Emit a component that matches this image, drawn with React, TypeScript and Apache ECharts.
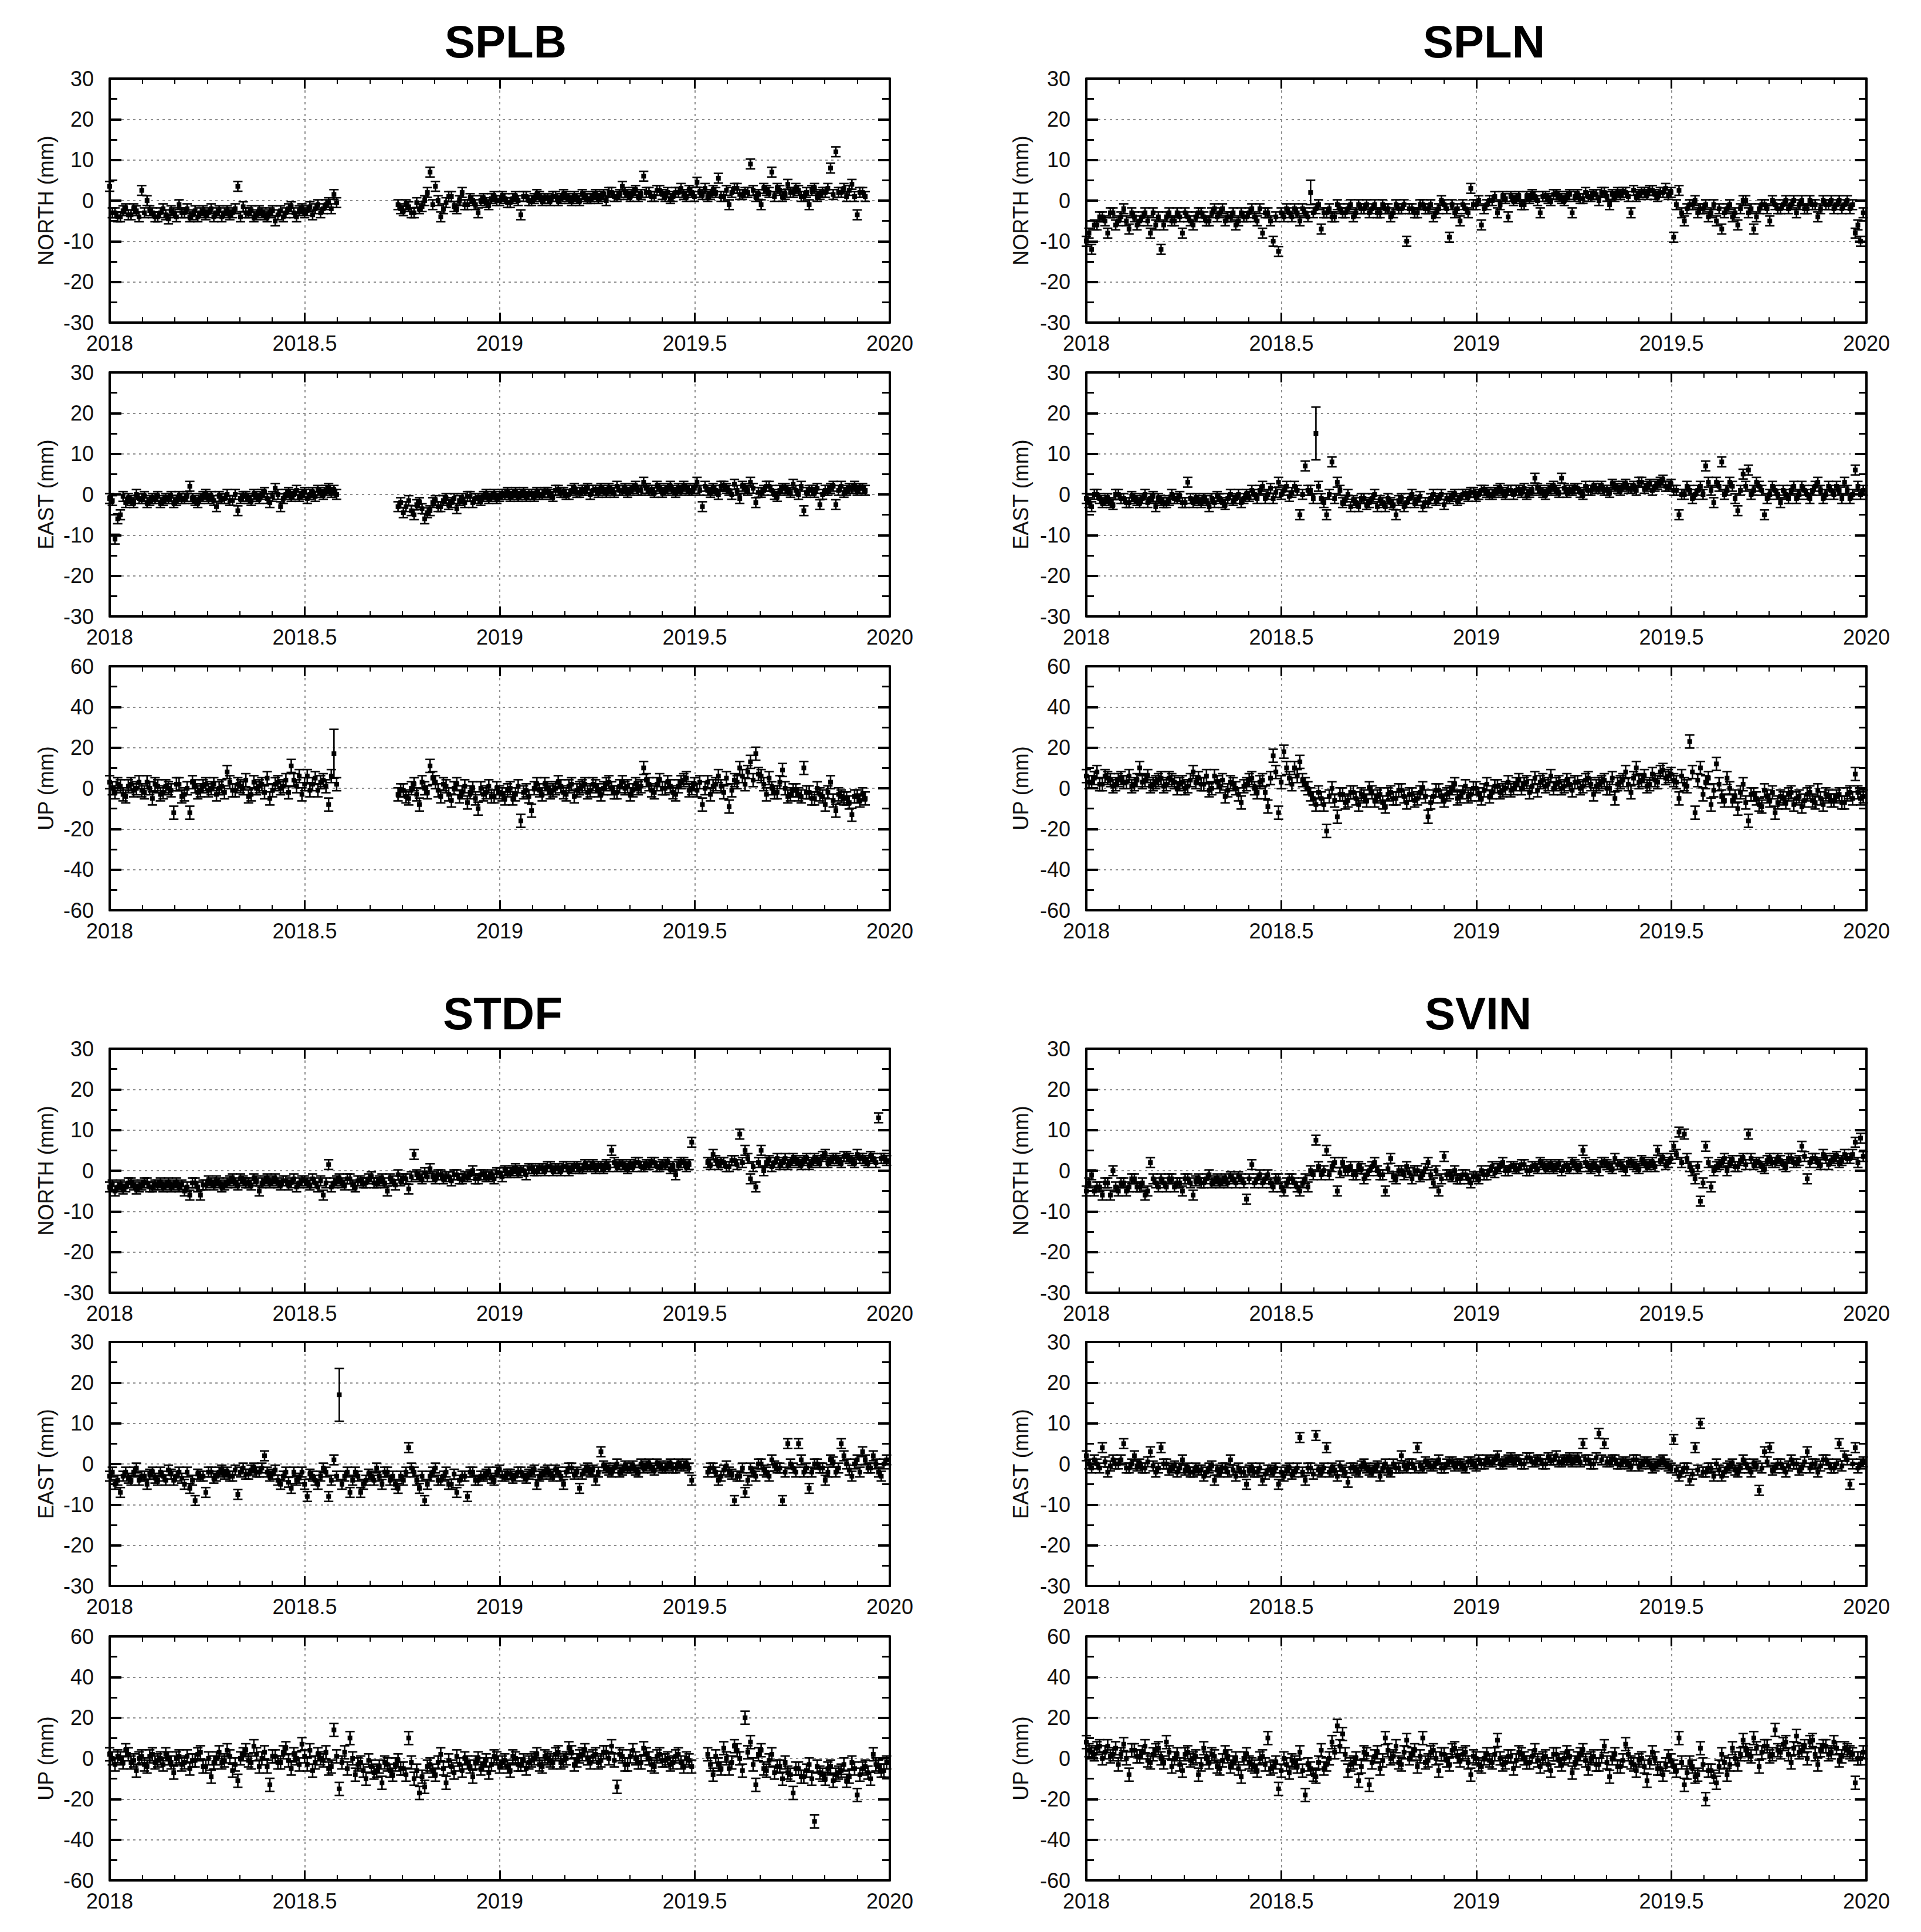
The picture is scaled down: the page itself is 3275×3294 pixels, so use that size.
import React, { useEffect, useRef } from "react";
import * as echarts from "echarts";

// ---- sampling: set A every 5 days from 2018.0, set B offset by 2.5 days ----
const START_YEAR = 2018;
const STEP_YEARS = 5 / 365.25;
const X_MIN = 2018;
const X_MAX = 2020;
const X_INTERVAL = 0.5;

const STATIONS = ["SPLB", "SPLN", "STDF", "SVIN"];
const COMPONENTS = ["NORTH (mm)", "EAST (mm)", "UP (mm)"];
const Y_RANGE_NE = [-30, 30];
const Y_RANGE_U = [-60, 60];
const DEFAULT_SIGMA = [1.2, 1.2, 3.2];

// ---- values (mm) ----
const SPLB_NORTH = [
  3.5, -3, -4, -2, -3.5, -2.5, 2.5, 0, -3, -4,
  -2, -4.5, -3, -1, -3, -4, -2.5, -3, -3.5, -2,
  -3, -4, -2.5, -3, 3.5, -1.5, -3, -4, -2.5, -3.5,
  -3, -5, -2.5, -3, -1.5, -4, -2, -2.5, -3.5, -1,
  -2, -0.5, 1.5, null, null, null, null, null, null, null,
  null, null, null, null, -1, -2.5, -1.5, -3, -2, 0,
  7, 3.5, -4, -0.5, 1, -2, 2, -1, 0, -3,
  0.5, -1, 1, 0, 0.5, -0.5, 1, -3.5, 1, 0,
  1.5, 0, 0.5, 1, 0, 1.5, 0.5, 1, 0, 1,
  0.5, 1.5, 1, 0, 2, 1, 3.5, 1.5, 2, 1,
  6, 2, 1, 2.5, 1, 0.5, 2, 3, 1, 2,
  4.5, 1.5, 1, 2.5, 5.5, 1, -1, 3, 1.5, 2,
  9, 1, -1, 2.5, 7, 3, 1, 4, 2, 2.5,
  1, -1, 3, 1.5, 2, 8, 12, 2, 1, 4,
  -3.5, 2, null, null, null, null,
];
const SPLB_NORTH_B = [
  -3, -4, -2.5, -3.5, -2, -4, -3, -2.5, -4, -3,
  -3.5, -2.5, -4, -3, -2, -3.5, -4, -2.5, -3, -4,
  -2.5, -3, -3.5, -2, -4, -3, -2.5, -3.5, -3, -4,
  -2.5, -3.5, -4, -2, -3, -2.5, -3, -1.5, -2, -3,
  -1, -2, -0.5, null, null, null, null, null, null, null,
  null, null, null, null, -2, -1, -3, -0.5, -1.5, 2,
  -1, 0, -2, 1, -1.5, 0, -1, 0.5, -1, 0,
  -0.5, 0.5, 0, 1, -0.5, 0.5, 0, 1, 0, 0.5,
  1, 0.5, 0, 1, 0.5, 1, 0, 0.5, 1.5, 0.5,
  1, 0.5, 1.5, 2, 1, 1.5, 2, 1, 2.5, 1.5,
  2, 1, 2.5, 1.5, 2, 1, 2, 1.5, 2.5, 1,
  2, 3, 1.5, 2, 1, 2.5, 2, 3, 1.5, 2,
  2.5, 1.5, 3, 2, 1, 2.5, 1.5, 2, 3, 1,
  2, 2.5, 1, 2, 3, 1.5, 2, 3, 2.5, 1,
  2, 1, null, null, null, null,
];
const SPLB_EAST = [
  -1, -11, -5, -2, -1.5, 0, -1, -2, -1, -0.5,
  -1.5, -1, -2, -0.5, -1, 2, -1.5, -1, 0, -0.5,
  -3, -1, 0, -1.5, -4, -0.5, -1, 0, -1, 0.5,
  -2, 1.5, -3, 0, -0.5, 1, 0, -1, 0.5, 1,
  0, 1.5, 1, null, null, null, null, null, null, null,
  null, null, null, null, -3, -4.5, -1.5, -5, -2, -6,
  -4, -1.5, -3, -1, -2, -3.5, -1, -0.5, -2, -1,
  -0.5, -1, 0, -0.5, 0, -0.5, 0.5, 0, -0.5, 0,
  0.5, 0, 0.5, -0.5, 1, 0.5, 0, 1.5, 0.5, 1,
  0, 1, 1.5, 0.5, 1, 2, 1, 0.5, 1.5, 1,
  3, 1, 0.5, 1.5, 1, 2, 0.5, 1, 1.5, 1,
  3, -3, 1, 1.5, 0, 2, 1, 2.5, -1, 1.5,
  3, -2, 0.5, 2, 1, -0.5, 1.5, 1, 2.5, 0,
  -4, 1, 0.5, -2.5, 1, 1.5, -2.5, 2, 1, 1.5,
  1, 1.5, null, null, null, null,
];
const SPLB_EAST_B = [
  -1.5, -6, -0.5, -1, -2, -1, -0.5, -1.5, -1, -2,
  -1, -0.5, -1.5, -1, -0.5, -1, -2, -0.5, -1, -1.5,
  -0.5, -1, -1.5, 0, -1, -0.5, -1.5, -0.5, 0, -1,
  -0.5, 0, -1, 0.5, 0, -0.5, 0.5, 0, -0.5, 0.5,
  1, 0.5, 0, null, null, null, null, null, null, null,
  null, null, null, null, -2, -3, -4, -2.5, -3.5, -4.5,
  -2, -3, -1.5, -2.5, -1, -1.5, -2, -0.5, -1, -1.5,
  0, -0.5, -1, 0, 0.5, 0, -0.5, 0.5, 0, -0.5,
  0, 0.5, 0, 1, 0.5, 0, 1, 0.5, 1, 1.5,
  1, 0.5, 1, 1.5, 0.5, 1, 1.5, 1, 2, 1,
  1.5, 1, 2, 0.5, 1.5, 1, 1.5, 2, 1, 1.5,
  1, 2, 0.5, 1, 2, 1.5, 0, 1, 2, 1,
  1.5, 0.5, 1, 2, 0, 1, 1.5, 0.5, 1, 2,
  0.5, 1, 1.5, 0, 1, 2, 1, 0.5, 1.5, 2,
  1.5, 1, null, null, null, null,
];
const SPLB_UP = [
  3, -2, 1, -4, 2, 0, -1, 3, -5, 1,
  -2, 0, -12, 2, -3, -12, 1, -1, 2, 0,
  -3, 1, 8, -1, 2, 0, -4, 3, 1, -2,
  -5, 2, 0, 4, 11, 1, -3, 6, 2, -1,
  4, -8, 17, null, null, null, null, null, null, null,
  null, null, null, null, -3, -1, -5, 2, -8, 0,
  11, 3, -4, 1, -6, 2, -2, -7, 0, -10,
  -3, 1, -4, -2, -5, 0, -3, -16, -1, -11,
  2, -3, 0, -1, 3, -2, 1, -4, 0, 2,
  -1, 1, -3, 2, 0, -2, 3, 1, -1, 0,
  10, 2, -2, 4, 0, 1, -3, 3, 5, 0,
  -1, -8, 3, 1, 6, -2, -9, 4, 10, 2,
  13, 17, 6, -3, 0, -2, 9, -4, -1, -3,
  10, -2, -5, -3, -8, 3, -11, -4, -5, -13,
  -4, -3, null, null, null, null,
];
const SPLB_UP_B = [
  0, 2, -3, 1, -1, 3, -2, 0, 2, -3,
  1, -1, 2, -4, 0, 3, -2, 1, -1, 2,
  0, -2, 3, -1, 1, 4, -3, 0, 2, 5,
  -1, 3, 1, -2, 4, 6, 2, -1, 5, 3,
  1, 6, 2, null, null, null, null, null, null, null,
  null, null, null, null, -1, -4, 0, -3, 3, -2,
  5, -1, 2, -3, 0, -4, 1, -2, -5, 0,
  -2, -4, 0, -3, -1, -5, 1, -2, -4, 0,
  -1, 2, -2, 0, 1, -3, 2, -1, 1, -2,
  2, -1, 0, 3, -2, 1, 0, -3, 2, 1,
  4, -1, 2, 0, 3, -2, 1, 4, -1, 2,
  3, 0, -3, 2, 1, 5, -1, 3, 6, 8,
  4, 7, 2, 5, -2, 3, 0, -3, -1, -4,
  -2, -5, 0, -4, -2, -6, -3, -5, -7, -4,
  -6, -5, null, null, null, null,
];

const SPLN_NORTH = [
  -10, -12, -6, -4, -8, -3, -5, -2, -7, -4,
  -5, -3, -8, -6, -12, -4, -5, -3, -8, -4,
  -6, -3, -4, -5, -2, -3, -5, -4, -6, -3,
  -4, -2, -5, -8, -3, -10, -12.5, -4, -3, -2,
  -5, -3, 2, -2, -7, -3, -4, -1, -3, -2,
  -4, -1, -2, -3, -1, -3, -2, -4, -1, -2,
  -10, -2, -3, -1, -2, -4, -2, -1, -9, -3,
  -5, -2, 3, -1, -6, -1, 0, -3, 1, -4,
  0, 1, -1, 0.5, 1, -3, 1, 0, 1.5, 0.5,
  1, -3, 1.5, 0.5, 1, 1.5, 0, 2, -1, 1,
  1.5, 2, -3, 1, 2, 1.5, 2.5, 1, 2, 1.5,
  -9, 2.5, -5, -1, 0, -2, -1, -3, -5, -7,
  -2, -4, -6, 0, -3, -7, -2, -1, -5, -1,
  -2, 0, -1, -3, 0, -2, -1, -4, 0, -1,
  -2, 0, -1, -2, -8, -10,
];
const SPLN_NORTH_B = [
  -8, -6, -4, -5, -3, -6, -4, -5, -3, -6,
  -4, -5, -3, -4, -6, -3, -5, -4, -3, -5,
  -4, -3, -5, -3, -4, -2, -4, -3, -5, -4,
  -3, -4, -2, -3, -5, -4, -3, -2, -4, -3,
  -2, -4, -3, -1, -3, -2, -4, -2, -3, -1,
  -3, -2, -1, -2, -3, -1, -2, -3, -2, -1,
  -2, -3, -1, -2, -1, -3, 0, -2, -1, -2,
  -1, -3, -1, 0, -2, 0, 1, -1, 0.5, 1,
  0.5, -1, 1, 1.5, 0, 1, 0.5, 1.5, 1, 0,
  1.5, 1, 0.5, 2, 1, 1.5, 2, 1, 1.5, 2,
  2, 1, 2.5, 1.5, 2, 2.5, 1.5, 2, 3, 2,
  -1, -3, -2, -1, -3, -2, -4, -1, -2, -3,
  -1, -3, -2, 0, -2, -4, -1, -2, 0, -2,
  -1, -2, 0, -1, -2, 0, -1, -2, -1, 0,
  -1, -2, 0, -1, -6, -3,
];
const SPLN_EAST = [
  -1, -3, 0, -2, -1, -2.5, 0, -1, -2, -1,
  -2, 0, -1, -3, -1.5, -2, 0, -1, -2, 3,
  -2, -1.5, -1, -3, -2, -1, -2.5, 0, -1, -2,
  0, 1, -1, 2, 0, -1, 3, 1, -0.5, 2,
  -5, 7, 1, 15, -1, -5, 8, 3, -2, 0,
  -1.5, -3, -1, -2, 0, -1.5, -3, -2, -5, -1,
  -2, 0, -1.5, -3, -2, 0, -1, -2.5, -1, 0,
  -1, 0, 0.5, -0.5, 1, 0.5, 0, 1, 0.5, 1,
  0, 1, 1.5, 0.5, 4, 1, 0, 1.5, 1, 4,
  0.5, 1, 1.5, 0, 1, 2, 1.5, 1, 0.5, 2,
  1, 2.5, 1.5, 1, 3, 2, 1, 2.5, 3.5, 2,
  1, -5, 0, 1, 0, 2, 7, 1, 3, 8,
  1, 2, -4, 5, 6, 1, 2, -5, 0, 1,
  -2, 0, 1, -1, 2, 0, 1, 3, -1, 2,
  0, 1, 3, -1, 6, 0,
];
const SPLN_EAST_B = [
  -2, 0, -1, -1.5, -2, 0, -1, -2, -0.5, -1.5,
  -1, -2, -0.5, -1, -2, -1.5, -1, -0.5, -2, -1,
  -1, -2, -1.5, -1, -0.5, -2, -1, -1.5, 0, -1,
  -0.5, 0, 1, -1, 1.5, 0.5, 0, 2, 0.5, 1,
  0, 1, -1, 2, -2, 0, -1, 1, -1.5, -3,
  -2, -1, -2.5, -1, -3, -2, -1, -2.5, -1.5, -3,
  -1, -2, -0.5, -2, -1, -1.5, 0, -1, -0.5, -1.5,
  0, -0.5, 0.5, 0, 1, 0, 0.5, 1.5, 0, 1,
  1, 0.5, 0, 1, 1.5, 0.5, 1, 2, 0.5, 1.5,
  1, 1.5, 0.5, 2, 1, 1.5, 2, 1, 2.5, 1.5,
  2, 1.5, 2, 3, 1.5, 2.5, 2, 3, 2, 2.5,
  1, 0, 2, -1, 1, 0, 3, -2, 2, 0,
  3, -1, 1, 2, 0, 3, 1, -1, 2, 0,
  1, -1, 2, 0, 1, -1, 2, 1, 0, 1,
  2, -1, 1, 0, 2, 1,
];
const SPLN_UP = [
  6, 3, 8, 2, 5, 1, 4, 3, 6, 2,
  10, 4, 1, 3, 5, 2, 4, 0, 3, 1,
  8, 5, 2, -1, 6, 1, -4, 3, 0, -7,
  2, 5, -2, 4, -9, 16, -12, 18, 5, 10,
  13, 2, -3, -8, -5, -21, 0, -14, -3, -6,
  -2, -8, -4, 0, -6, -3, -9, -2, -5, -1,
  -7, -3, -5, 0, -14, -4, -1, -6, -2, 2,
  -4, 1, -3, 0, -5, 2, -2, 1, -1, 3,
  0, 4, 2, -2, 5, 3, 1, 6, 2, 0,
  4, -1, 3, 1, 5, -3, 2, 4, 0, -5,
  3, 8, -2, 10, 4, 1, 7, 3, 9, 6,
  4, -5, 2, 23, -12, 10, 3, -8, 12, -4,
  5, -6, -10, 2, -16, -3, -8, -1, -6, -12,
  -4, -7, -2, -5, -9, -3, -6, -1, -8, -4,
  -6, -3, -7, -2, 7, -5,
];
const SPLN_UP_B = [
  3, 5, 2, 6, 4, 2, 5, 3, 1, 4,
  3, 6, 2, 4, 1, 5, 3, 2, 0, 4,
  3, 2, 6, 0, 3, 4, -1, 2, -3, 1,
  4, 0, 3, -2, 5, 8, 3, 10, 2, 6,
  4, 0, -5, -2, -8, -4, -6, -3, -7, -2,
  -5, -3, -6, -2, -4, -7, -3, -5, -1, -4,
  -3, -6, -2, -4, -7, -1, -4, -3, 0, -5,
  -2, -4, 0, -3, -1, -4, 1, -2, 0, -1,
  2, 0, 3, 1, -1, 4, 2, 0, 3, 1,
  2, 3, 0, 4, 2, 1, 3, 0, 5, 2,
  4, 2, 5, 3, 6, 2, 4, 8, 5, 7,
  3, 6, 1, 8, 4, -3, 5, -1, 2, -6,
  0, -4, -2, -7, -3, -5, -9, -4, -2, -7,
  -5, -3, -8, -4, -6, -2, -7, -5, -3, -6,
  -4, -7, -3, -5, -2, -4,
];

const STDF_NORTH = [
  -4, -5, -3.5, -4, -3, -4.5, -3.5, -3, -4, -3.5,
  -4, -3, -3.5, -4, -5, -6, -3, -6, -3.5, -3,
  -2.5, -4, -3, -2, -3.5, -2.5, -3, -2, -5, -2.5,
  -3, -2, -3.5, -2.5, -3, -4, -2.5, -3, -2, -4,
  -6, 1.5, -3, -2, -3.5, -2, -4, -2.5, -3, -1.5,
  -3, -2, -5, -2.5, -1, -2, -4.5, 4, -1.5, -0.5,
  0.5, -2, -1, -1.5, -2.5, -1, -2, -1.5, 0, -2,
  -1, -1.5, -2, -0.5, 0, -0.5, 0.5, 0, -1, 0.5,
  0, 0.5, 1, 0, 0.5, 1, 0, 1, 0.5, 1.5,
  1, 0.5, 1, 1.5, 5, 1, 1.5, 0.5, 1, 2,
  1, 1.5, 2, 1, 1.5, 0.5, -1, 2, 1, 7,
  null, null, 2, 4, 1.5, 2, 1, 2.5, 9, 5,
  -2, -4, 5, 2, 1, 3, 2, 1.5, 3, 2,
  2.5, 1.5, 3, 2, 4, 2.5, 3, 2, 3.5, 2.5,
  4, 3, 2, 3, 13, 3,
];
const STDF_NORTH_B = [
  -3.5, -4, -4.5, -3, -3.5, -4, -3, -4, -3.5, -3,
  -3.5, -4, -3, -3.5, -4, -3, -4, -3.5, -2.5, -3.5,
  -3, -3.5, -2.5, -3, -2, -3, -3.5, -2.5, -3, -2,
  -2.5, -3, -2.5, -3.5, -2, -3, -2.5, -3.5, -3, -2.5,
  -3, -4, -2.5, -3, -2, -3.5, -2.5, -3, -2, -3,
  -2.5, -3, -2, -3.5, -2.5, -2, -1.5, -1, -2, -1.5,
  -1.5, -1, -2, -1.5, -1, -2, -1.5, -1, -2, -1,
  -1.5, -1, -0.5, -1.5, -0.5, 0, -0.5, 0, 0.5, 0,
  0.5, 0, 1, 0.5, 0, 1, 0.5, 1, 0.5, 1,
  1.5, 1, 0.5, 1, 2, 1.5, 1, 1.5, 2, 1,
  1.5, 2, 1, 1.5, 2, 1, 1.5, 2, 1.5, null,
  null, null, 1.5, 2.5, 2, 1, 2.5, 1.5, 2, 3,
  1, 2, 0, 2.5, 2, 1.5, 3, 2, 2.5, 1.5,
  3, 2, 2.5, 3.5, 2, 3, 2.5, 3.5, 3, 2,
  3, 2.5, 3.5, 2, 3, 2.5,
];
const STDF_EAST = [
  -3, -5, -7, -2, -4, -1, -3, -5, -2, -4,
  -3, -1.5, -4, -2, -5, -6, -9, -3, -7, -2,
  -3, -1.5, -2, -3, -7.5, -1, -2.5, -1, -2, 2,
  -3, -1.5, -5, -2, -6, -4, -2, -8, -3, -5,
  -1, -8, 1, 17, -3, -7, -2, -7, -4, -3,
  -1, -5, -2, -3, -6, -4, 4, -2, -6, -9,
  -3, -1, -4, -2, -5, -7, -3, -8, -2, -4,
  -3, -2, -4, -1.5, -3, -2.5, -3, -2, -3.5, -2,
  -5, -2.5, -1.5, -3, -2, -5, -1, -2.5, -6, -1.5,
  -2, -4, 3, -1, -2, 0, -1.5, -1, -0.5, -2,
  -1, 0, -1.5, -0.5, -1, 0, -1, -0.5, 0, -4,
  null, null, -2, -1, -4, -1.5, -2, -9, -3, -7,
  -1, -3, 0, -2, 1, -1, -9, 5, -1, 5,
  -2, -6, 0, -1, -4, 1, -2, 5, 0, -3,
  1, 3, -1, 2, -2, 0,
];
const STDF_EAST_B = [
  -2, -4, -3, -3.5, -2, -4, -3, -2.5, -3.5, -2,
  -4, -2.5, -3, -3.5, -2, -4, -2.5, -3, -2, -3.5,
  -2, -2.5, -3, -1.5, -2, -2.5, -1.5, -2, -1, -2,
  -2.5, -4, -3, -4.5, -2, -3.5, -5, -2.5, -4, -3,
  -2, -4, -3, -5, -2, -4, -3, -5, -2.5, -4,
  -3, -2, -4, -5, -3, -2, -1, -4, -3, -5,
  -2, -4, -3, -5, -2.5, -4, -3, -2, -4, -3,
  -2.5, -3.5, -2, -3, -2.5, -3.5, -2, -3, -2.5, -1.5,
  -3, -2, -2.5, -1.5, -3, -2, -1, -2, -2.5, -1,
  -1.5, -2, -0.5, -1.5, -1, -2, -0.5, -1, -1.5, 0,
  -0.5, -1, 0, -1, -0.5, -1, 0, -0.5, -1, null,
  null, null, -1, -2, -3, -0.5, -2.5, -3, -1, -4,
  -2, 0, -1.5, -3, -0.5, -1, -2, 0, -2, 1,
  -1, -2, 0, -1, -2, 0.5, -1, 2, -1.5, 0,
  -2, 1, -1, 0, -3, 1,
];
const STDF_UP = [
  2, -3, 0, 4, -2, -6, 1, -4, 2, -1,
  -3, 0, -7, 1, -2, -5, -1, 3, -4, -9,
  0, -2, 4, -6, -11, 2, -1, 6, -4, 3,
  -13, 1, -2, 5, -5, 0, 7, -3, -6, 2,
  -1, -5, 14, -15, 3, 10, -8, -2, -10, -4,
  -6, -12, -3, -8, -1, -5, 10, -10, -17, -14,
  -3, -8, 2, -12, -4, 1, -6, -2, -9, 0,
  -3, -7, 1, -4, -1, -6, 0, -3, -5, -1,
  2, -4, 0, -2, 3, -1, 5, -3, 1, 4,
  -2, 2, -1, 3, 6, -14, 1, -3, 4, -2,
  5, 0, -4, 2, -1, -3, 1, -2, 0, -4,
  null, null, 2, -8, -3, 5, -5, 6, 0, 20,
  8, -13, 4, -6, 2, -4, -10, -7, -17, -5,
  -9, -3, -31, -7, -10, -4, -8, -6, -11, -2,
  -18, -5, -7, 2, -4, -6,
];
const STDF_UP_B = [
  0, 1, -2, 2, -1, 0, -3, 1, -2, 0,
  2, -2, 0, -3, 1, -1, 2, -4, 0, -2,
  3, -1, 1, -3, 0, 4, -2, 2, 0, -4,
  1, -2, 3, -1, 2, -3, 1, 4, -2, 0,
  3, -4, 1, -2, -5, 0, -3, -6, -1, -7,
  -4, -2, -6, -3, -5, -8, -2, -6, -9, -4,
  -6, -2, -5, -1, -7, -3, 0, -4, -2, -5,
  -1, -3, 0, -2, -4, 1, -3, -1, -2, 0,
  -3, 1, -1, 2, -2, 0, 3, -1, 2, 0,
  1, -2, 3, 0, -1, 2, -3, 1, 0, -2,
  2, -3, 1, -1, 0, -2, 2, -4, -1, null,
  null, null, -3, 1, -5, 0, -2, 4, -6, 3,
  -3, 2, -5, -1, -7, -4, -2, -8, -5, -9,
  -6, -10, -4, -8, -5, -11, -7, -3, -9, -5,
  -8, -4, -10, -3, -6, -2,
];

const SVIN_NORTH = [
  -5, -1, -4, -6, -3, 0, -5, -3, -4, -2,
  -4, -6, 2, -3, -2, -4, -2, -3, -5, -2,
  -6, -2, -3, -1, -2.5, -3, -2, -1.5, -3, -2,
  -7, 1.5, -2, -3, -1, -4, -2, -5, -2, -3,
  -5, -2, 0, 7.5, -1, 5, 1, -5, 2, 0,
  -1, 1, -2, 0, 2, -1, -5, 3, -2, 0,
  1, -2, 0, -1, 2, -3, -5, 3.5, -1, 0,
  -2, -1, -3, -1.5, 0, -1, 1, 0.5, 2, 0,
  1, 0.5, 1.5, 0, 1, 2, 0.5, 1.5, 1, 0,
  1, 2, 0.5, 5, 1, 1.5, 0, 2, 1, 3,
  1.5, 0, 2, 1, 2.5, 1, 2, 5, 3, 2,
  6, 9.5, 9, 1, -2, -7.5, 6, -4, 1, 2,
  0, 2.5, 1, 3, 9, 1.5, 2, 0.5, 3, 2,
  2.5, 1, 3, 2, 6, -2, 3, 2, 4, 1.5,
  3, 2, 4, 3, 7, 8,
];
const SVIN_NORTH_B = [
  -3, -5, -4, -3, -6, -4, -3, -5, -2, -4,
  -3, -5, -2, -4, -3, -2, -4, -3, -2, -3,
  -2.5, -3, -2, -3, -2, -2.5, -3, -2, -1.5, -3,
  -2, -3, -1, -2, -3, -2, -4, -3, -2, -4,
  -3, -4, -1, 1, 0, -1, 2, -0.5, 0, 1,
  -1, 0.5, -1, 1, 0, -1, 0.5, -1.5, 0, -1,
  -0.5, 0, -1.5, 0.5, -1, 0, -2, -1, -1.5, -2,
  -1, -2, -1.5, -2, -1, 0, -0.5, 1, 0, 1,
  0.5, 1.5, 0, 1, 0.5, 1.5, 1, 0.5, 1.5, 1,
  0.5, 1.5, 1, 2, 0.5, 1, 2, 1.5, 0.5, 1.5,
  1, 2, 1.5, 0.5, 2, 1.5, 1, 2.5, 1.5, 3,
  4, 2, 3, 0, 1, -3, 2, 0, 1.5, 3,
  2, 1, 2.5, 1.5, 3, 2, 1, 2.5, 2, 3,
  1.5, 3, 2, 2.5, 3.5, 2, 3, 1.5, 3, 2.5,
  3.5, 2.5, 3, 4, 2, 3.5,
];
const SVIN_EAST = [
  2, -1, 0, 4, -2, 1, 0, 5, -1, 2,
  0, -1, 3, -2, 4, 0, -1, -2, 1, -1,
  -2, -1.5, -3, -1, -4, -2, -1, 1, -3, -2,
  -5, -1, -2, -4, -1.5, -2, -5, -3, -1, -2,
  6.5, -4, -1, 7, -2, 4, -1, -3, -1.5, -4.5,
  -1, -2, 0, -1.5, -1, -3, 0, -2, -1, 2,
  -1, 0, 4, -1, 0, -0.5, 1, -1, 0.5, -0.5,
  0, -1, 0.5, -0.5, 0, 1, 0.5, 2, 0, 1,
  0.5, 1, 0, 1.5, 0.5, 1, 0, 1, 2, 0.5,
  1, 0.5, 1.5, 5, 1, 0, 7.5, 5, 0.5, 1,
  0, 0.5, -0.5, 1, 0, 0.5, -1, 0, 1, -0.5,
  6, -3, -1, -4, 4, 10, -2, -1, 0, -3,
  -1, 0, -2, 1, -1, 0, -6.5, 3, 4, -1,
  0, -2, 1, 0, -1, 3, 0, -2, 1, 0,
  -1, 5, 2, -5, 4, 0,
];
const SVIN_EAST_B = [
  0, 1, -1, 0.5, -0.5, 0, 1, -1, 0, -0.5,
  -1, 0.5, -0.5, -1, 0, -1.5, -0.5, -1, -1.5, -2,
  -1, -1.5, -2, -0.5, -1.5, -1, -2, -1.5, -1, -2,
  -1.5, -2, -1, -2.5, -1.5, -1, -2, -1.5, -2.5, -1,
  -2, -1, -2.5, -1.5, -1, -2, -1.5, -0.5, -2, -1,
  -1.5, -0.5, -1, -2, -0.5, -1, -1.5, 0, -1, -0.5,
  0, -1, -0.5, 0.5, -0.5, 0, -1, 0, 0.5, 0,
  -0.5, 0.5, 0, 1, 0, 0.5, 1, 0, 0.5, 1.5,
  1, 0, 1.5, 0.5, 1, 0, 1.5, 1, 0.5, 1,
  1.5, 1, 0.5, 1, 0, 1.5, 1, 0.5, 1, 0,
  0.5, 0, 1, -0.5, 0.5, 0, -0.5, 0.5, 0, -1,
  -1.5, -2, -1, -2.5, -1.5, -2, -1, -3, -1.5, -2,
  -0.5, -1.5, -1, 0, -2, -0.5, -1, 0.5, -1.5, 0,
  -1, -0.5, 0, -1.5, 0.5, -1, 0, -0.5, 1, -1,
  0, -0.5, 1, 0, -1, 0.5,
];
const SVIN_UP = [
  8, 3, 5, 0, 6, 2, -3, 7, -8, 4,
  1, 6, -2, 4, 0, 8, -4, 2, -6, 3,
  0, -8, 5, -2, 1, -5, 3, -4, 0, -9,
  2, -3, -6, 1, 10, -4, -15, 0, -7, -2,
  3, -18, -5, -9, 4, -3, 8, 16, 12, -6,
  -2, -11, 3, -13, 1, -5, 10, 0, 6, -3,
  9, 2, -4, 10, -1, 4, -6, 2, -3, 5,
  -1, 3, -8, 0, -4, 2, -2, 9, -3, 1,
  -5, 3, 0, -2, 4, -4, 1, -6, 2, -3,
  3, -7, 0, 4, -5, 1, -3, 6, -9, 2,
  -4, 7, -2, -6, 0, -11, 3, -5, -8, 1,
  -4, 10, -13, -2, -9, 5, -20, -6, -12, 2,
  -8, 5, -3, 9, 2, 10, -4, 6, 1, 14,
  3, 8, -2, 11, 4, 0, 9, -3, 6, 2,
  8, -1, 5, 3, -12, 0,
];
const SVIN_UP_B = [
  4, 2, 6, 3, 1, 5, 2, 0, 4, 1,
  3, -1, 2, 5, -2, 3, 0, -3, 2, -1,
  1, -3, 0, 2, -4, -1, 1, -2, -5, 0,
  -2, -4, 0, -3, -5, -2, -6, -3, -1, -4,
  -6, -3, -8, -2, -5, 0, 3, 6, 2, -3,
  0, -4, 2, -2, 3, -1, 4, 1, -2, 3,
  0, 4, 1, -2, 3, 0, 2, -1, 4, 1,
  2, -2, 1, -3, 0, -1, 2, 0, -2, 1,
  -1, 2, -2, 1, -1, 0, -3, 2, -1, 0,
  1, -2, 2, -1, 0, -3, 1, -2, 0, -4,
  -1, 2, -3, -1, -4, -2, 0, -5, -3, -1,
  -6, -2, -7, -4, -8, -3, -6, -9, -4, -2,
  -3, 0, 2, 4, 1, 5, 3, 6, 2, 4,
  7, 2, 5, 3, 6, 8, 2, 4, 6, 3,
  5, 1, 4, 2, 0, 3,
];

// large formal errors on set A: [sample index, sigma mm]
const SPLB_UP_BIG_SIGMA = [[42, 12]];
const SPLN_NORTH_BIG_SIGMA = [[42, 3]];
const SPLN_EAST_BIG_SIGMA = [[43, 6.5]];
const STDF_EAST_BIG_SIGMA = [[43, 6.5]];

const PANEL_VALUES: Record<string, (number | null)[][][]> = {
  SPLB: [[SPLB_NORTH, SPLB_NORTH_B], [SPLB_EAST, SPLB_EAST_B], [SPLB_UP, SPLB_UP_B]],
  SPLN: [[SPLN_NORTH, SPLN_NORTH_B], [SPLN_EAST, SPLN_EAST_B], [SPLN_UP, SPLN_UP_B]],
  STDF: [[STDF_NORTH, STDF_NORTH_B], [STDF_EAST, STDF_EAST_B], [STDF_UP, STDF_UP_B]],
  SVIN: [[SVIN_NORTH, SVIN_NORTH_B], [SVIN_EAST, SVIN_EAST_B], [SVIN_UP, SVIN_UP_B]],
};
const PANEL_BIG: Record<string, number[][][]> = {
  SPLB: [[], [], SPLB_UP_BIG_SIGMA],
  SPLN: [SPLN_NORTH_BIG_SIGMA, SPLN_EAST_BIG_SIGMA, []],
  STDF: [[], STDF_EAST_BIG_SIGMA, []],
  SVIN: [[], [], []],
};

// ---- layout (px) ----
const W = 3275;
const H = 3294;
const COL_LEFT = [187, 1852];
const PLOT_W = 1330;
const ROW_TOP = [134, 635, 1136, 1788, 2288, 2790];
const PLOT_H = 416;
const TITLE_POS = [
  [862, 71],
  [2530, 71],
  [857, 1728],
  [2520, 1728],
];
const YNAME_X = [78, 1740];
const FONT = "'Liberation Sans', Arial, Helvetica, sans-serif";

function buildOption() {
  const grids: any[] = [];
  const xAxes: any[] = [];
  const yAxes: any[] = [];
  const series: any[] = [];
  const graphics: any[] = [];

  const frame = { show: true, onZero: false, lineStyle: { color: "#000", width: 4 } };
  const grid = { show: true, lineStyle: { color: "#8f8f8f", width: 2, type: [4, 6] } };

  STATIONS.forEach((st, s) => {
    const col = s % 2;
    const block = Math.floor(s / 2);
    COMPONENTS.forEach((comp, c) => {
      const gi = grids.length;
      const left = COL_LEFT[col];
      const top = ROW_TOP[block * 3 + c];
      grids.push({ left, top, width: PLOT_W, height: PLOT_H, containLabel: false });
      const isUp = c === 2;
      const [ymin, ymax] = isUp ? Y_RANGE_U : Y_RANGE_NE;
      const yInt = isUp ? 20 : 10;

      ["bottom", "top"].forEach((pos) => {
        xAxes.push({
          type: "value",
          gridIndex: gi,
          position: pos,
          min: X_MIN,
          max: X_MAX,
          interval: X_INTERVAL,
          axisLine: frame,
          axisTick: { show: true, inside: true, length: 17, lineStyle: { color: "#000", width: 3 } },
          minorTick: { show: true, splitNumber: 6, length: 9, lineStyle: { color: "#000", width: 2 } },
          splitLine: pos === "bottom" ? grid : { show: false },
          minorSplitLine: { show: false },
          axisLabel: {
            show: pos === "bottom",
            fontSize: 36,
            color: "#111",
            fontFamily: FONT,
            margin: 17,
            showMinLabel: true,
            showMaxLabel: true,
            formatter: (v: number) => String(v),
          },
        });
      });
      ["left", "right"].forEach((pos) => {
        yAxes.push({
          type: "value",
          gridIndex: gi,
          position: pos,
          min: ymin,
          max: ymax,
          interval: yInt,
          axisLine: frame,
          axisTick: { show: true, inside: true, length: 20, lineStyle: { color: "#000", width: 4 } },
          minorTick: { show: true, splitNumber: 2, length: 13, lineStyle: { color: "#000", width: 3 } },
          splitLine: pos === "left" ? grid : { show: false },
          minorSplitLine: { show: false },
          axisLabel: {
            show: pos === "left",
            fontSize: 36,
            color: "#111",
            fontFamily: FONT,
            margin: 27,
            showMinLabel: true,
            showMaxLabel: true,
          },
        });
      });

      const sets = PANEL_VALUES[st][c];
      const big = PANEL_BIG[st][c];
      const data: number[][] = [];
      sets.forEach((vals, k) => {
        vals.forEach((v, i) => {
          if (v === null || v === undefined) return;
          let sig = DEFAULT_SIGMA[c];
          if (k === 0) {
            big.forEach(([bi, bs]) => {
              if (bi === i) sig = bs;
            });
          }
          data.push([START_YEAR + (i + k * 0.5) * STEP_YEARS, v, sig]);
        });
      });

      series.push({
        type: "custom",
        xAxisIndex: gi * 2,
        yAxisIndex: gi * 2,
        data,
        renderItem: (params: any, api: any) => {
          const x = api.value(0);
          const y = api.value(1);
          const sg = api.value(2);
          const p = api.coord([x, y]);
          const pt = api.coord([x, y + sg]);
          const pb = api.coord([x, y - sg]);
          const hw = 8;
          const st2 = { stroke: "#000", lineWidth: 2.6 };
          return {
            type: "group",
            children: [
              { type: "line", shape: { x1: p[0], y1: pt[1], x2: p[0], y2: pb[1] }, style: st2 },
              { type: "line", shape: { x1: p[0] - hw, y1: pt[1], x2: p[0] + hw, y2: pt[1] }, style: st2 },
              { type: "line", shape: { x1: p[0] - hw, y1: pb[1], x2: p[0] + hw, y2: pb[1] }, style: st2 },
              { type: "rect", shape: { x: p[0] - 4, y: p[1] - 4, width: 8, height: 8 }, style: { fill: "#000" } },
            ],
          };
        },
      });

      graphics.push({
        type: "text",
        x: YNAME_X[col],
        y: top + PLOT_H / 2,
        rotation: Math.PI / 2,
        style: {
          text: comp,
          fontSize: 36,
          fontFamily: FONT,
          fill: "#111",
          align: "center",
          verticalAlign: "middle",
          textAlign: "center",
          textVerticalAlign: "middle",
        },
      });
    });

    graphics.push({
      type: "text",
      x: TITLE_POS[s][0],
      y: TITLE_POS[s][1],
      style: {
        text: st,
        fontSize: 78,
        fontWeight: "bold",
        fontFamily: FONT,
        fill: "#000",
        align: "center",
        verticalAlign: "middle",
        textAlign: "center",
        textVerticalAlign: "middle",
      },
    });
  });

  return {
    animation: false,
    backgroundColor: "#fff",
    grid: grids,
    xAxis: xAxes,
    yAxis: yAxes,
    series,
    graphic: { elements: graphics },
  };
}

export default function App() {
  const ref = useRef<HTMLDivElement>(null);
  useEffect(() => {
    document.body.style.margin = "0";
    document.body.style.background = "#fff";
    if (!ref.current) return;
    const chart = echarts.init(ref.current, undefined, { renderer: "svg", width: W, height: H });
    chart.setOption(buildOption() as any);
    return () => chart.dispose();
  }, []);
  return <div ref={ref} style={{ width: W, height: H }} />;
}
